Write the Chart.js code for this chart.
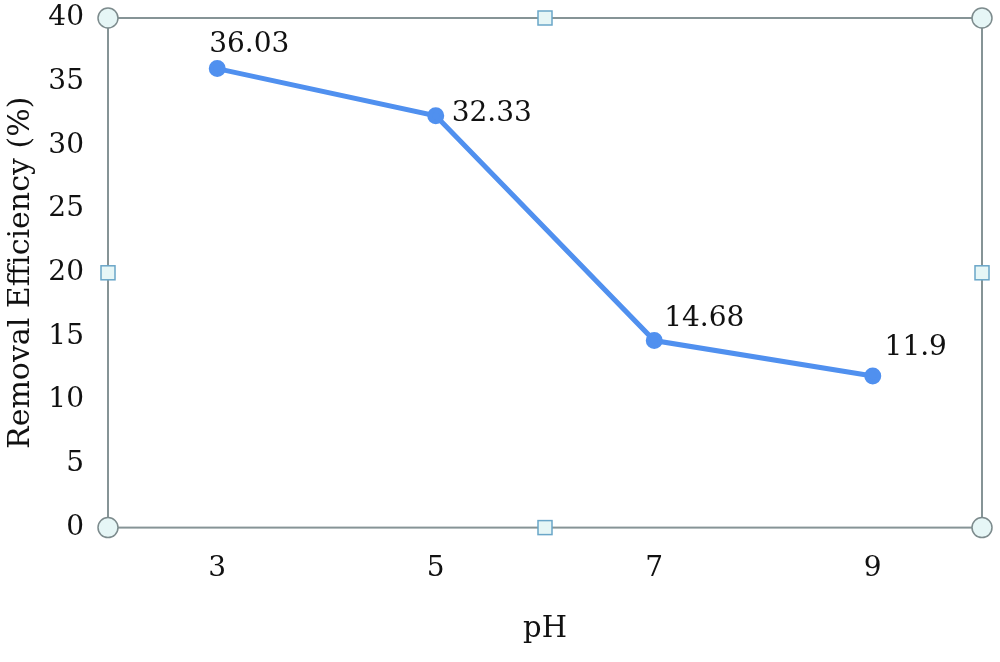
<!DOCTYPE html>
<html>
<head>
<meta charset="utf-8">
<script src="https://cdn.jsdelivr.net/npm/chart.js@4"></script>
<style>
  html, body { margin: 0; padding: 0; background: #fff; }
  #wrap { width: 1000px; height: 662px; }
</style>
</head>
<body>
<div id="wrap"><canvas id="lineChart" width="1000" height="662"></canvas></div>
<script>
const phLabels = ['3', '5', '7', '9'];
const removalEfficiency = [36.03, 32.33, 14.68, 11.9];
const pointLabels = ['36.03', '32.33', '14.68', '11.9'];
const yTicks = [0, 5, 10, 15, 20, 25, 30, 35, 40];

// where each value label sits relative to its point (dx, dy in px)
const labelOffsets = [[32, -24], [56, -2], [50, -22], [43, -28]];

const serif = '"DejaVu Serif", "Liberation Serif", serif';
const lineColor = '#5090ef';
const frameColor = '#869496';

// value labels next to the points
const valueLabels = {
  id: 'valueLabels',
  afterDatasetsDraw(chart) {
    const ctx = chart.ctx;
    const meta = chart.getDatasetMeta(0);
    ctx.save();
    ctx.font = '28px ' + serif;
    ctx.fillStyle = '#111';
    ctx.textAlign = 'center';
    ctx.textBaseline = 'middle';
    meta.data.forEach((pt, i) => {
      ctx.fillText(pointLabels[i], pt.x + labelOffsets[i][0], pt.y + labelOffsets[i][1]);
    });
    ctx.restore();
  }
};

// box round the plot plus the selection handles
const frame = {
  id: 'frame',
  afterDraw(chart) {
    const ctx = chart.ctx;
    const a = chart.chartArea;
    const mx = (a.left + a.right) / 2, my = (a.top + a.bottom) / 2;
    ctx.save();
    ctx.strokeStyle = frameColor;
    ctx.lineWidth = 2;
    ctx.strokeRect(a.left, a.top, a.right - a.left, a.bottom - a.top);

    ctx.fillStyle = '#e6f6f6';
    ctx.strokeStyle = '#7d8b8d';
    ctx.lineWidth = 1.5;
    [[a.left, a.top], [a.right, a.top], [a.left, a.bottom], [a.right, a.bottom]].forEach(p => {
      ctx.beginPath();
      ctx.arc(p[0], p[1], 10, 0, Math.PI * 2);
      ctx.fill();
      ctx.stroke();
    });
    ctx.strokeStyle = '#6aa6c8';
    [[mx, a.top], [mx, a.bottom], [a.left, my], [a.right, my]].forEach(p => {
      ctx.fillRect(p[0] - 7, p[1] - 7, 14, 14);
      ctx.strokeRect(p[0] - 7, p[1] - 7, 14, 14);
    });
    ctx.restore();
  }
};

var ctx = document.getElementById('lineChart');

var lineChart = new Chart(ctx, {
  type: 'line',
  data: {
    labels: phLabels,
    datasets: [{
      label: 'Removal Efficiency',
      data: removalEfficiency,
      borderColor: lineColor,
      backgroundColor: lineColor,
      borderWidth: 5,
      pointRadius: 6,
      pointHoverRadius: 6,
      tension: 0
    }]
  },
  options: {
    responsive: false,
    animation: false,
    layout: { padding: { top: 18, right: 18, bottom: 11, left: 4 } },
    plugins: {
      legend: { display: false },
      tooltip: { enabled: false }
    },
    scales: {
      x: {
        offset: true,
        grid: { display: false, drawTicks: false },
        border: { display: false },
        ticks: { color: '#111', font: { family: serif, size: 28 }, padding: 24 },
        title: { display: true, text: 'pH', color: '#111', font: { family: serif, size: 29 }, padding: { top: 3 } },
        afterFit(scale) { scale.paddingLeft = 0; scale.paddingRight = 0; }
      },
      y: {
        min: 0,
        max: 40,
        afterBuildTicks(axis) { axis.ticks = yTicks.map(v => ({ value: v })); },
        grid: { display: false, drawTicks: false },
        border: { display: false },
        ticks: { color: '#111', font: { family: serif, size: 28 }, padding: 24 },
        title: { display: true, text: 'Removal Efficiency (%)', color: '#111', font: { family: serif, size: 30, lineHeight: 1 }, padding: { top: 2, bottom: 0 } },
        afterFit(scale) { scale.width = 104; scale.paddingTop = 0; scale.paddingBottom = 0; }
      }
    }
  },
  plugins: [valueLabels, frame]
});
</script>
</body>
</html>
